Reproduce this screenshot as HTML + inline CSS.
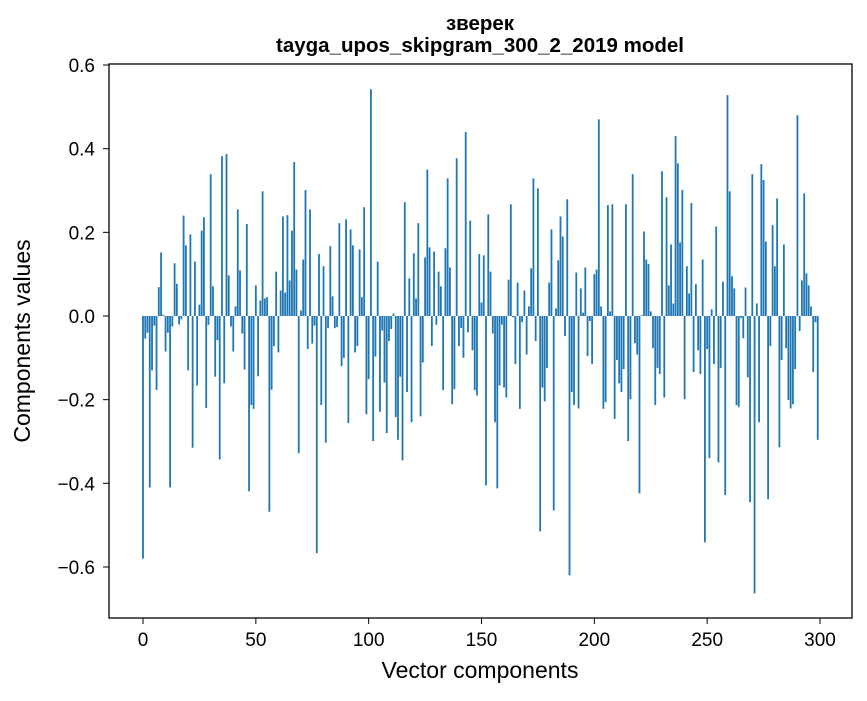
<!DOCTYPE html>
<html><head><meta charset="utf-8"><style>
body{margin:0;background:#fff;}
svg text{font-family:"Liberation Sans","DejaVu Sans",sans-serif;fill:#000;}
</style></head><body>
<svg id="chart" width="867" height="696" xmlns="http://www.w3.org/2000/svg">
<rect width="867" height="696" fill="#fff"/>
<text x="480" y="30" font-size="20.5" font-weight="bold" text-anchor="middle">зверек</text>
<text x="480" y="52" font-size="20.5" font-weight="bold" text-anchor="middle">tayga_upos_skipgram_300_2_2019 model</text>
<g id="bars"></g>
<g id="axes"></g>
<text x="480" y="678" font-size="23" text-anchor="middle">Vector components</text>
<text transform="translate(30,341) rotate(-90)" font-size="23" text-anchor="middle">Components values</text>
</svg>
<script>
const values = [-0.58,-0.054,-0.04,-0.41,-0.13,-0.023,-0.177,0.069,0.152,0.003,
-0.085,-0.04,-0.41,-0.025,0.126,0.077,-0.02,-0.008,0.24,0.169,
-0.13,0.195,-0.315,0.13,-0.166,0.027,0.204,0.236,-0.22,-0.021,
0.339,0.071,-0.145,-0.058,-0.343,0.382,-0.161,0.387,0.097,-0.025,
-0.085,0.023,0.255,0.109,-0.042,-0.128,0.22,-0.419,-0.213,-0.222,
0.073,-0.144,0.037,0.298,0.042,0.045,-0.468,-0.176,-0.072,0.106,
-0.087,0.061,0.238,0.056,0.241,0.085,0.204,0.368,0.111,-0.328,
0.013,0.135,0.301,-0.079,0.255,-0.066,-0.023,-0.567,0.148,-0.213,
0.119,-0.303,-0.029,0.167,0.047,-0.029,-0.026,0.222,-0.12,-0.10,
0.231,-0.256,0.207,0.169,-0.087,-0.072,0.159,0.045,0.26,-0.235,
-0.151,0.542,-0.299,-0.097,0.13,-0.229,-0.035,-0.159,-0.28,-0.06,
-0.031,0.006,-0.242,-0.296,-0.145,-0.345,0.272,-0.182,0.09,-0.254,
0.15,0.042,0.222,-0.24,-0.111,0.14,0.35,0.164,-0.072,0.154,
-0.021,0.106,0.071,-0.177,0.162,0.329,0.116,-0.211,-0.175,0.377,
-0.072,-0.029,-0.10,0.44,-0.039,0.228,-0.082,-0.177,-0.19,0.148,
0.032,0.145,-0.405,0.243,0.106,-0.042,-0.254,-0.412,-0.166,-0.021,
-0.171,-0.195,0.087,0.267,-0.003,-0.115,0.08,-0.222,-0.015,0.061,
-0.092,0.023,0.114,0.329,-0.06,0.305,-0.515,-0.171,-0.204,-0.124,
0.08,0.207,-0.465,0.018,0.133,0.238,0.19,-0.048,0.279,-0.62,
-0.182,-0.213,0.104,-0.221,0.066,0.008,0.116,-0.096,-0.012,-0.115,
0.10,0.111,0.47,0.023,-0.222,-0.206,0.265,0.011,0.267,-0.246,
-0.105,-0.161,-0.182,-0.127,0.267,-0.299,-0.199,0.339,-0.065,-0.092,
-0.424,0.002,0.202,0.135,0.124,0.011,-0.077,-0.213,-0.124,-0.139,
0.346,-0.195,0.284,0.073,0.171,0.03,0.43,0.365,0.176,0.301,
-0.199,0.119,0.054,0.27,-0.134,0.076,-0.082,-0.139,0.135,-0.541,
-0.079,-0.34,0.016,-0.115,0.214,-0.35,-0.124,0.082,-0.428,0.528,
0.298,0.095,0.066,-0.213,-0.218,-0.005,-0.053,0.068,-0.147,-0.445,
0.339,-0.663,0.03,-0.254,0.363,0.325,0.178,-0.438,-0.072,0.217,
0.119,0.281,-0.314,-0.105,0.171,-0.077,-0.201,-0.221,-0.211,-0.127,
0.48,-0.036,0.085,0.293,0.102,0.073,0.023,-0.134,-0.015,-0.296];
const xTicks = [0,50,100,150,200,250,300];
const yTicks = [-0.6,-0.4,-0.2,0.0,0.2,0.4,0.6];
const yTickLabels = ["\u22120.6","\u22120.4","\u22120.2","0.0","0.2","0.4","0.6"];

const NS="http://www.w3.org/2000/svg";
const L=109,R=852,T=64,B=618;
function xs(i){return 143+i*(820-143)/300;}
function ys(v){return 316-v*418.3;}
const bars=document.getElementById('bars');
const bw=0.8*(820-143)/300;
values.forEach((v,i)=>{
  const r=document.createElementNS(NS,'rect');
  
  
  const y0=ys(0),y1=ys(v);
  r.setAttribute('x',xs(i)-bw/2);
  r.setAttribute('y',Math.min(y0,y1));
  r.setAttribute('width',bw);
  r.setAttribute('height',Math.abs(y1-y0));
  r.setAttribute('fill','#1f77b4');
  bars.appendChild(r);
});
const axes=document.getElementById('axes');
const frame=document.createElementNS(NS,'rect');


frame.setAttribute('x',L);frame.setAttribute('y',T);
frame.setAttribute('width',R-L);frame.setAttribute('height',B-T);
frame.setAttribute('fill','none');frame.setAttribute('stroke','#000');frame.setAttribute('stroke-width','1.3');
axes.appendChild(frame);
xTicks.forEach(t=>{
  const x=xs(t);
  const ln=document.createElementNS(NS,'line');
  
  
  ln.setAttribute('x1',x);ln.setAttribute('x2',x);ln.setAttribute('y1',B);ln.setAttribute('y2',B+6);
  ln.setAttribute('stroke','#000');
  axes.appendChild(ln);
  const tx=document.createElementNS(NS,'text');
  
  
  tx.setAttribute('x',x);tx.setAttribute('y',B+28);
  tx.setAttribute('font-size','19');tx.setAttribute('text-anchor','middle');
  tx.textContent=t;
  axes.appendChild(tx);
});
yTicks.forEach((t,k)=>{
  const y=ys(t);
  const ln=document.createElementNS(NS,'line');
  
  
  ln.setAttribute('x1',L-6);ln.setAttribute('x2',L);ln.setAttribute('y1',y);ln.setAttribute('y2',y);
  ln.setAttribute('stroke','#000');
  axes.appendChild(ln);
  const tx=document.createElementNS(NS,'text');
  
  
  tx.setAttribute('x',L-14);tx.setAttribute('y',y+7);
  tx.setAttribute('font-size','19');tx.setAttribute('text-anchor','end');
  tx.textContent=yTickLabels[k];
  axes.appendChild(tx);
});
</script>
</body></html>
